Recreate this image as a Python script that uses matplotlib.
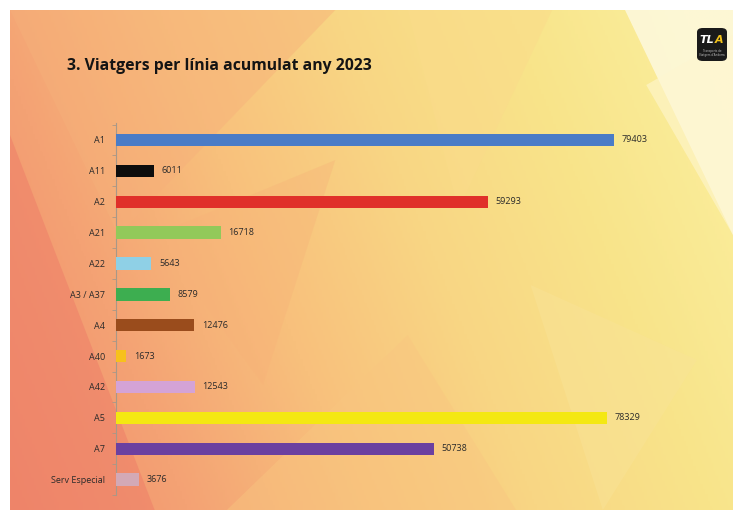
import numpy as np
import matplotlib
matplotlib.use("Agg")
import matplotlib.pyplot as plt
from matplotlib.patches import Polygon, FancyBboxPatch
from matplotlib.colors import LinearSegmentedColormap

categories = ["A1", "A11", "A2", "A21", "A22", "A3 / A37", "A4", "A40", "A42", "A5", "A7", "Serv Especial"]
values = [79403, 6011, 59293, 16718, 5643, 8579, 12476, 1673, 12543, 78329, 50738, 3676]
bar_colors = ["#4a7cc7", "#0d0d0d", "#e0302a", "#92c95a", "#8fd0e6", "#3dae50",
              "#9a4c1c", "#f7c11c", "#d4a3d6", "#f4e812", "#6b40a0", "#d3a9b6"]
title = "3. Viatgers per línia acumulat any 2023"

W, H = 733, 522
fig = plt.figure(figsize=(W / 100, H / 100), dpi=100)
fig.patch.set_facecolor("white")

# ---- background slide ----
bg = fig.add_axes([10 / W, (H - 510) / H, (W - 10) / W, 500 / H])
bg.set_xlim(0, 1)
bg.set_ylim(0, 1)
bg.axis("off")
cmap = LinearSegmentedColormap.from_list(
    "slide", ["#f08c6c", "#f4a274", "#f8c07c", "#f9d684", "#f8e48a", "#fbee9c"])
xx, yy = np.meshgrid(np.linspace(0, 1, 300), np.linspace(0, 1, 200))
grad = np.clip(0.78 * xx + 0.22 * yy + 0.05, 0, 1)
bg.imshow(grad, extent=[0, 1, 0, 1], origin="lower", cmap=cmap, aspect="auto", zorder=0)
polys = [
    ([(0, 1), (0.45, 1), (0.15, 0.55)], "#f6b07a", 0.45),
    ([(0, 0.75), (0.2, 0.0), (0, 0)], "#ee7e68", 0.55),
    ([(0.55, 1), (0.75, 1), (0.62, 0.6)], "#fadb8a", 0.5),
    ([(0.85, 1), (1, 1), (1, 0.55)], "#fefbe8", 0.75),
    ([(0.88, 0.85), (1, 0.55), (1, 0.95)], "#fff6d0", 0.6),
    ([(0.3, 0.0), (0.55, 0.35), (0.7, 0.0)], "#f9c680", 0.45),
    ([(0.72, 0.45), (0.95, 0.3), (0.82, 0.0)], "#fae398", 0.45),
    ([(0.2, 0.55), (0.45, 0.7), (0.35, 0.25)], "#f7b178", 0.35),
]
for pts, c, a in polys:
    bg.add_patch(Polygon(pts, closed=True, facecolor=c, edgecolor="none", alpha=a, zorder=1))

# logo
logo = FancyBboxPatch((697 / W, (H - 61) / H), 30 / W, 33 / H,
                      boxstyle="round,pad=0,rounding_size=0.008",
                      transform=fig.transFigure, facecolor="#1a1a1a", edgecolor="none", zorder=5)
fig.patches.append(logo)
fig.text(714.5 / W, (H - 40) / H, "TL", color="white", fontsize=8, fontweight="bold",
         fontstyle="italic", family="DejaVu Sans", ha="right", va="center", zorder=6)
fig.text(714.5 / W, (H - 40) / H, "A", color="#f2c21a", fontsize=8, fontweight="bold",
         fontstyle="italic", family="DejaVu Sans", ha="left", va="center", zorder=6)
fig.text(712 / W, (H - 53) / H, "Transports de\nViatgers d'Andorra", color="#bbbbbb", fontsize=2,
         ha="center", va="center", zorder=6)

# title
fig.text(67 / W, (H - 66) / H, title, fontsize=11.3, fontweight="bold", family="Open Sans",
         color="#141414", va="center", ha="left")

# ---- bar chart ----
ax = fig.add_axes([116 / W, (H - 495) / H, 583 / W, 372 / H])
ax.patch.set_alpha(0)
y = np.arange(len(categories))
ax.barh(y, values, height=0.4, color=bar_colors, zorder=3)
ax.set_xlim(0, 93000)
ax.set_ylim(len(categories) - 0.55, -0.55)
ax.set_yticks(y)
ax.set_yticklabels(categories, fontsize=6.5, family="Open Sans", color="#2a2a2a")
ax.set_yticks(np.arange(-0.5, len(categories), 1), minor=True)
ax.tick_params(axis="y", which="major", length=0, pad=8)
ax.tick_params(axis="y", which="minor", length=3, color="#a89888", width=0.6)
ax.set_xticks([])
for s in ["top", "right", "bottom"]:
    ax.spines[s].set_visible(False)
ax.spines["left"].set_color("#a89888")
ax.spines["left"].set_linewidth(0.8)
for yi, v in zip(y, values):
    ax.annotate(str(v), (v, yi), xytext=(5.5, 0), textcoords="offset points",
                va="center", ha="left", fontsize=6.5, family="Open Sans", color="#2a2a2a")

fig.savefig("out.png", dpi=100)
